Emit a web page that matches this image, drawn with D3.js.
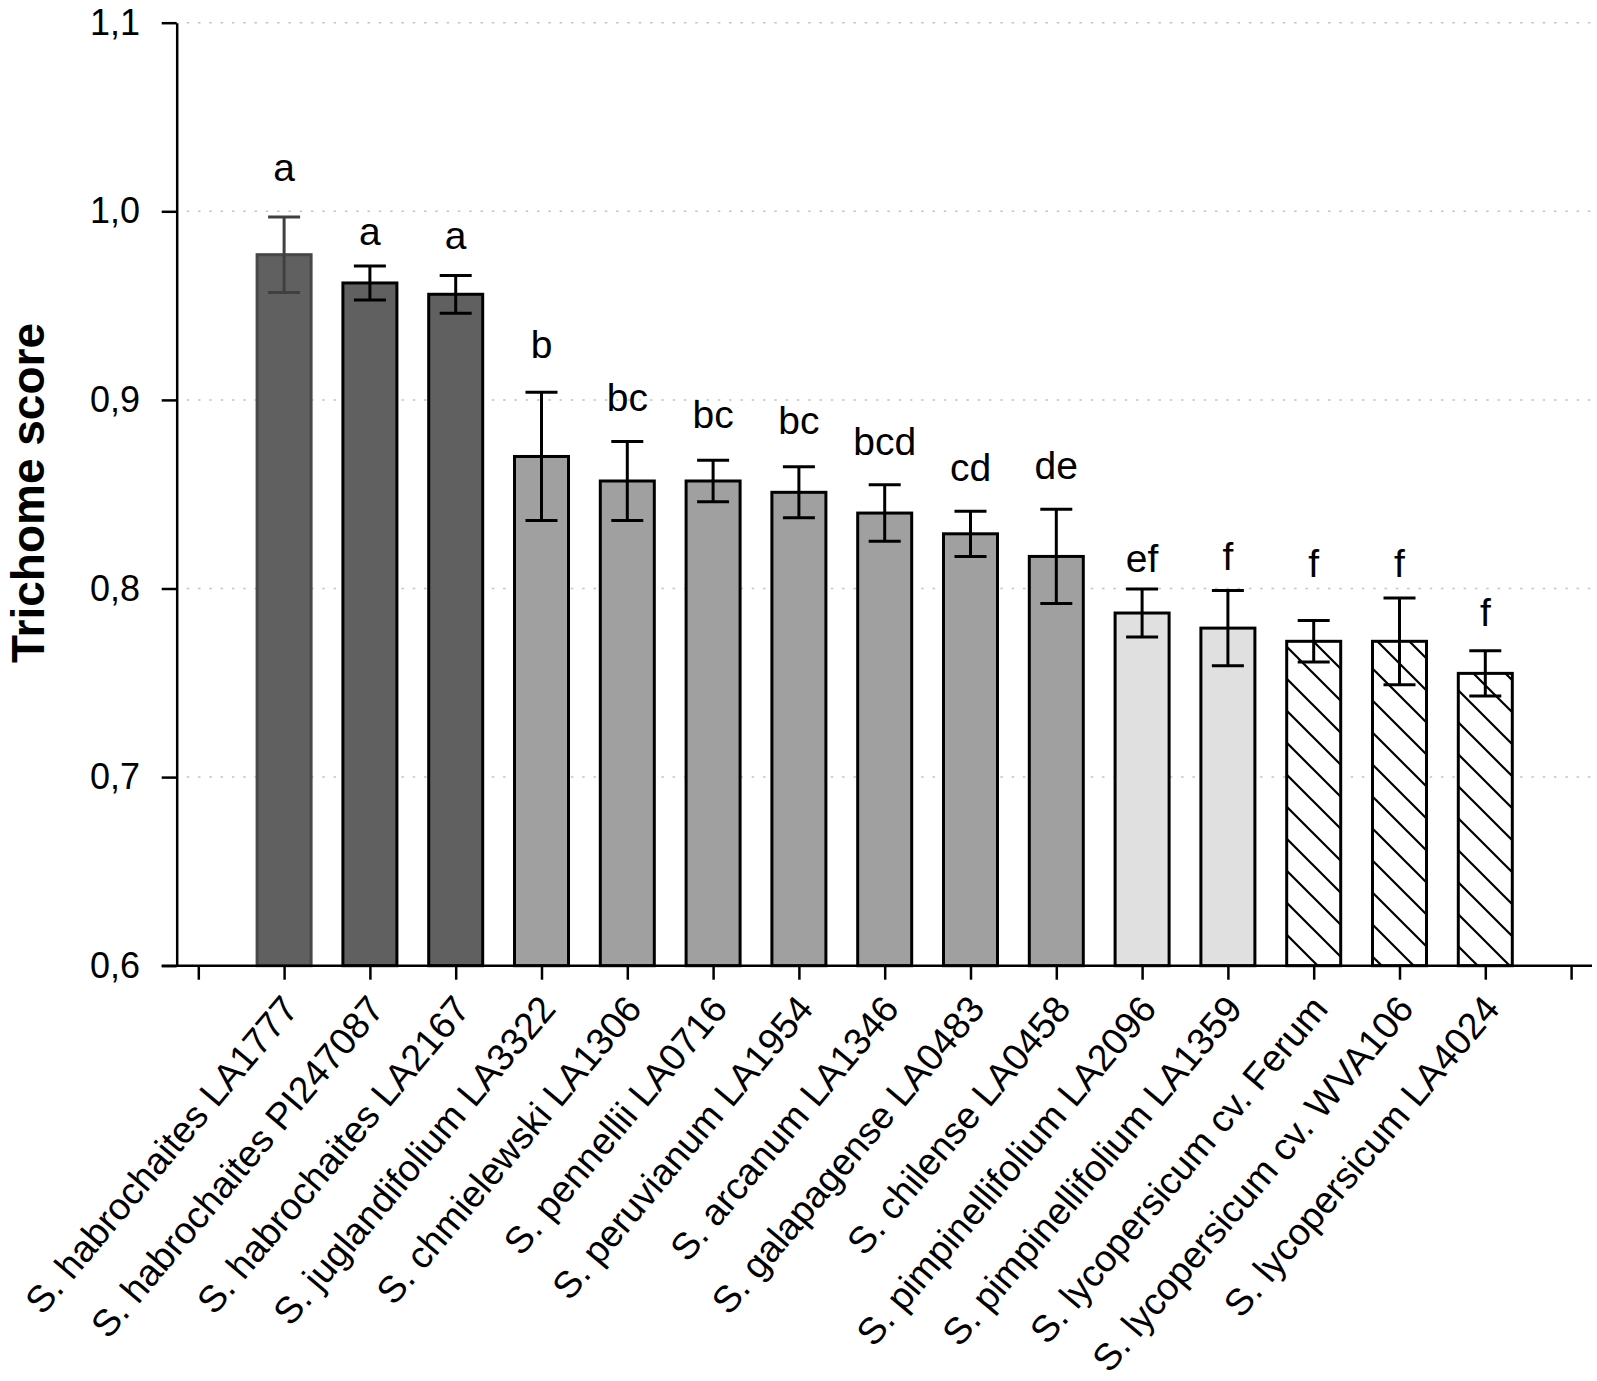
<!DOCTYPE html>
<html>
<head>
<meta charset="utf-8">
<script src="https://cdn.jsdelivr.net/npm/d3@7"></script>
<style>
  html, body { margin: 0; padding: 0; background: #fff; }
  svg { display: block; font-family: Arial, "Liberation Sans", sans-serif; }
</style>
</head>
<body>
<svg id="chart" width="1597" height="1381"></svg>
<script>
const categories = [
  "S. habrochaites LA1777", "S. habrochaites PI247087", "S. habrochaites LA2167",
  "S. juglandifolium LA3322", "S. chmielewski LA1306", "S. pennellii LA0716",
  "S. peruvianum LA1954", "S. arcanum LA1346", "S. galapagense LA0483",
  "S. chilense LA0458", "S. pimpinellifolium LA2096", "S. pimpinellifolium LA1359",
  "S. lycopersicum cv. Ferum", "S. lycopersicum cv. WVA106", "S. lycopersicum LA4024"
];
const means  = [0.977, 0.962, 0.956, 0.870, 0.857, 0.857, 0.851, 0.840, 0.829, 0.817, 0.787, 0.779, 0.772, 0.772, 0.755];
const errors = [0.020, 0.009, 0.010, 0.034, 0.021, 0.011, 0.0135, 0.015, 0.012, 0.025, 0.0127, 0.020, 0.011, 0.023, 0.012];
const letters = ["a", "a", "a", "b", "bc", "bc", "bc", "bcd", "cd", "de", "ef", "f", "f", "f", "f"];
const letterLevels = [1.016, 0.982, 0.980, 0.922, 0.894, 0.885, 0.882, 0.871, 0.857, 0.858, 0.809, 0.810, 0.806, 0.806, 0.780];
const groups = [0, 1, 1, 2, 2, 2, 2, 2, 2, 2, 3, 3, 4, 4, 4];
const yTicks = [0.6, 0.7, 0.8, 0.9, 1.0, 1.1];
const yTickLabels = ["0,6", "0,7", "0,8", "0,9", "1,0", "1,1"];
const yTitle = "Trichome score";

// styles per group
const groupFill   = ["#606060", "#606060", "#a0a0a0", "#e0e0e0", "url(#hatch)"];
const groupStroke = ["#484848", "#000000", "#000000", "#000000", "#000000"];
const groupErr    = ["#404040", "#000000", "#000000", "#000000", "#000000"];

const svg = d3.select("#chart");
const axisX = 176.7, yTop = 22.7, yBottom = 965.7;

const defs = svg.append("defs");
const pat = defs.append("pattern").attr("id", "hatch")
  .attr("patternUnits", "userSpaceOnUse").attr("width", 32).attr("height", 32);
pat.append("rect").attr("width", 32).attr("height", 32).attr("fill", "#fff");
pat.append("path").attr("d", "M-8,-8 L40,40 M-8,24 L8,40 M24,-8 L40,8")
  .attr("stroke", "#000").attr("stroke-width", 2.2);

const y = d3.scaleLinear().domain([0.6, 1.1]).range([yBottom, yTop]);
const xi = d3.scaleLinear().domain([0, 16]).range([198.3, 198.3 + 16 * 85.8]);
const cx = i => xi(i + 1);

// gridlines
svg.append("g").selectAll("line").data(yTicks.slice(1)).join("line")
  .attr("x1", axisX + 10).attr("x2", 1595)
  .attr("y1", d => y(d)).attr("y2", d => y(d))
  .attr("stroke", "#c4c4c4").attr("stroke-width", 1.5)
  .attr("stroke-dasharray", "2.5,8.8");

// bars
const barW = 54;
const idx = d3.range(categories.length);
svg.append("g").selectAll("rect").data(idx).join("rect")
  .attr("x", i => cx(i) - barW / 2)
  .attr("y", i => y(means[i]))
  .attr("width", barW)
  .attr("height", i => y(0.6) - y(means[i]))
  .attr("fill", i => groupFill[groups[i]])
  .attr("stroke", i => groupStroke[groups[i]])
  .attr("stroke-width", 3);

// error bars
const capW = 32;
const eb = svg.append("g").selectAll("g").data(idx).join("g")
  .attr("stroke", i => groupErr[groups[i]]).attr("stroke-width", 3);
eb.append("line").attr("x1", i => cx(i)).attr("x2", i => cx(i))
  .attr("y1", i => y(means[i] + errors[i])).attr("y2", i => y(means[i] - errors[i]));
eb.append("line").attr("x1", i => cx(i) - capW / 2).attr("x2", i => cx(i) + capW / 2)
  .attr("y1", i => y(means[i] + errors[i])).attr("y2", i => y(means[i] + errors[i]));
eb.append("line").attr("x1", i => cx(i) - capW / 2).attr("x2", i => cx(i) + capW / 2)
  .attr("y1", i => y(means[i] - errors[i])).attr("y2", i => y(means[i] - errors[i]));

// letters
svg.append("g").selectAll("text").data(idx).join("text")
  .attr("x", i => cx(i)).attr("y", i => y(letterLevels[i]))
  .attr("text-anchor", "middle").attr("font-size", 39).attr("fill", "#000")
  .text(i => letters[i]);

// y axis
const yAxis = svg.append("g").attr("transform", `translate(${axisX},0)`)
  .call(d3.axisLeft(y).tickValues(yTicks).tickFormat((d, i) => yTickLabels[i])
    .tickSize(15).tickSizeOuter(0).tickPadding(21.7));
yAxis.select(".domain").attr("stroke", "#000").attr("stroke-width", 2.5);
yAxis.selectAll(".tick line").attr("stroke", "#000").attr("stroke-width", 2.5);
yAxis.selectAll(".tick text").attr("font-size", 36).attr("fill", "#000")
  .attr("font-family", "Arial, 'Liberation Sans', sans-serif");

// x axis
const xAxis = svg.append("g").attr("transform", `translate(0,${yBottom})`)
  .call(d3.axisBottom(xi).tickValues(d3.range(17)).tickFormat(() => "").tickSize(14).tickSizeOuter(0));
xAxis.select(".domain").remove();
xAxis.selectAll(".tick line").attr("stroke", "#000").attr("stroke-width", 2.5);
svg.append("line").attr("x1", 161.7).attr("x2", 1592).attr("y1", yBottom).attr("y2", yBottom)
  .attr("stroke", "#000").attr("stroke-width", 2.5);

// x labels
svg.append("g").selectAll("text").data(idx).join("text")
  .attr("transform", i => `translate(${cx(i) + 16},${yBottom + 44}) rotate(-50)`)
  .attr("text-anchor", "end").attr("font-size", 37.5).attr("fill", "#000")
  .text(i => categories[i]);

// y title
svg.append("text")
  .attr("transform", "translate(44,493) rotate(-90)")
  .attr("text-anchor", "middle").attr("font-size", 46).attr("font-weight", "bold")
  .attr("fill", "#000").text(yTitle);
</script>
</body>
</html>
